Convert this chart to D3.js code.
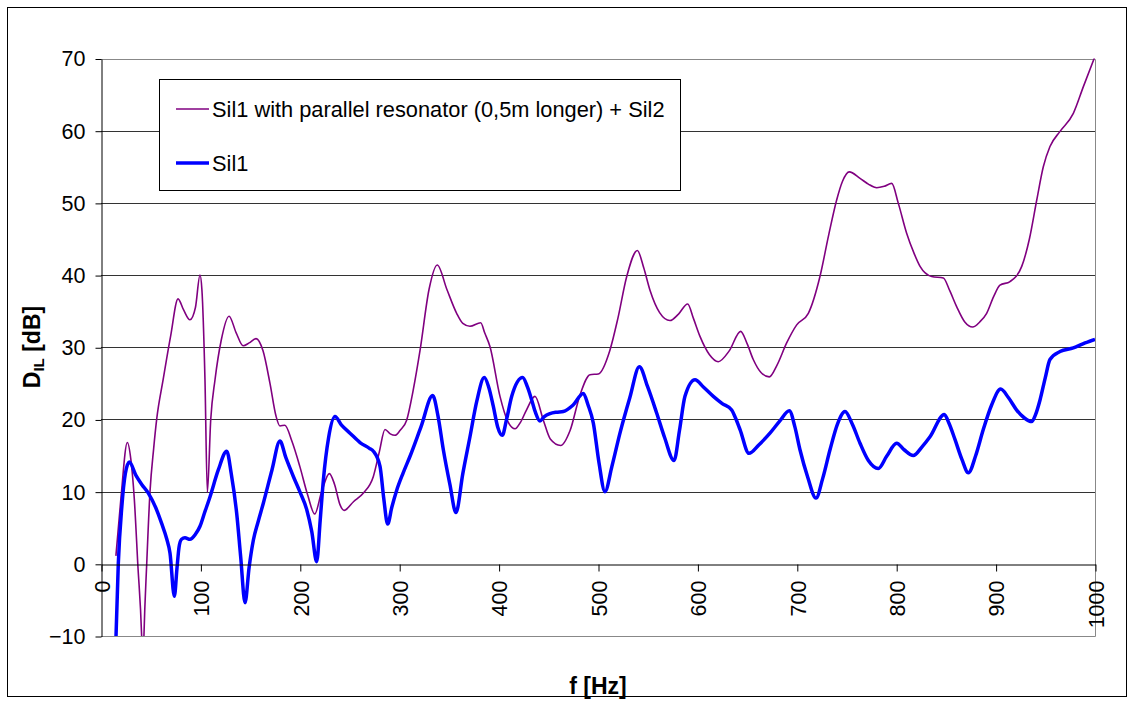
<!DOCTYPE html>
<html>
<head>
<meta charset="utf-8">
<script src="https://cdn.jsdelivr.net/npm/d3@7"></script>
<style>
  body { margin: 0; background: #fff; }
  text { font-family: "Liberation Sans", Arial, sans-serif; }
</style>
</head>
<body>
<div id="chart"></div>
<script>
// Sil1 with parallel resonator (0,5m longer) + Sil2
var resFreq = [15, 20, 26.5, 30, 33.5, 37, 40.9, 42.2, 43.2, 46, 49.3, 53, 56, 62.5, 70, 77.5, 83, 89.5, 95, 99.6,
  101.5, 104.6, 107, 110.4, 114.7, 121, 128.8, 136, 143, 149, 156, 163, 170, 176, 180, 185, 192, 200, 208, 215,
  222, 229.7, 235, 240.4, 244.5, 254, 264, 274, 280, 285.7, 291, 295.8, 301, 307.5, 314, 321, 330, 338.3, 348, 357.8,
  364, 371.2, 382, 386, 391.3, 401.4, 409, 416.5, 422, 428, 436.6, 445, 452, 462.5, 472, 481.9, 492, 500.3, 512, 520,
  528.9, 539.6, 546, 552.3, 562, 572.4, 581, 590.2, 596, 602.6, 612, 621, 632, 643.5, 650, 656.2, 664, 672.3, 680, 689.8,
  699.9, 711.6, 723.3, 732, 740.1, 746, 752.8, 763.6, 772, 780.4, 788, 795.5, 802, 810.5, 818, 824, 835.7, 847.4, 854, 860.9,
  869, 876.9, 884, 891, 898, 904.4, 914.5, 926.3, 934, 941.4, 948, 954.7, 964.8, 978.2, 988.3, 1000];
var resDb = [1.1, 9, 16.8, 14.5, 9, 0, -10, -16, -10, 0, 10, 16, 20, 25.5, 31.5, 36.7, 35.2, 33.8, 35.5, 40,
  38, 25.5, 9.9, 20, 25.5, 31, 34.3, 32, 30.2, 30.6, 31.2, 29.5, 25, 20.5, 19.1, 19.2, 17, 13.5, 9.5, 6.9,
  10, 12.5, 11, 8.2, 7.4, 8.6, 9.8, 12.1, 15.5, 18.6, 18, 17.8, 18.5, 19.9, 24, 29.6, 38, 41.4, 38, 34.7,
  33.3, 32.9, 33.4, 32, 30.1, 23.2, 19.8, 18.7, 19.6, 21.3, 23.2, 19.9, 17.3, 16.4, 18.5, 23.4, 26.2, 26.3, 29.6, 34,
  39.8, 43.4, 41, 37.9, 34.8, 33.7, 34.6, 36, 34, 31.5, 29, 28, 29.5, 32.2, 30.5, 28.3, 26.5, 25.9, 27.5, 30.6,
  33.1, 34.7, 39.8, 45.5, 50.4, 53, 54.3, 53.4, 52.6, 52.1, 52.3, 52.7, 50, 45.8, 43, 41.2, 39.8, 39.6, 37.8, 35.6,
  33.5, 32.8, 33.5, 34.7, 37, 38.6, 39.1, 41.2, 45, 50.4, 55, 57.8, 59.9, 62.4, 66.1, 70.3];

// Sil1
var silFreq = [15, 17.4, 21, 24.5, 28.5, 35, 41, 47.6, 55, 61, 66, 69.4, 73.8, 76.5, 78.5, 81, 84.5, 89.5, 95, 99.6,
  104, 109.7, 118, 126.5, 131, 136.5, 140.5, 144.9, 149, 153.3, 158, 163.3, 172, 180, 186, 193.5, 200, 207, 212, 217,
  220.5, 223.7, 229, 235.4, 242, 250.5, 260.6, 270, 274, 280.7, 284.5, 288.4, 292.5, 297.5, 304, 310.9, 322, 333.7, 339, 344.4,
  351, 357.1, 364, 371.2, 378, 385.6, 390, 394.7, 399, 403.7, 408, 413.2, 424.2, 429, 433.3, 437, 441.6, 446, 451.7, 458,
  465.1, 475, 485.2, 490, 495.3, 501, 507, 514, 522.1, 532, 541.6, 550, 559, 567, 576.5, 582, 587.5, 597.6, 606, 616,
  625, 634.5, 638, 642.9, 651.9, 662, 673, 683, 692.5, 698, 703.2, 711, 719.3, 726, 733.4, 741, 748.5, 756, 763.6, 772,
  782, 790.4, 800.5, 808, 817.2, 826, 834, 848.4, 853, 859.2, 866, 872.6, 880, 887.6, 896, 905.1, 913, 921.2, 929, 936.3,
  940, 944.7, 950, 954.7, 964.8, 978.2, 990, 1000];
var silDb = [-10.5, 0, 8, 12.5, 14.1, 12.3, 11, 9.8, 7.8, 5.6, 3.5, 1.5, -4.5, -0.5, 2.3, 3.4, 3.6, 3.4, 4.1, 5.2,
  7, 9.3, 13, 15.6, 12.5, 7, 1, -5.4, -0.5, 3.3, 5.8, 8.4, 13, 17, 14.7, 12.1, 10, 7.5, 4.5, 0.3,
  6, 11.6, 17.5, 20.4, 19.2, 18.1, 16.8, 16, 15.6, 13.5, 9, 5.5, 7.8, 10.2, 12.6, 14.9, 19, 23.3, 20.5, 15.8,
  11, 7.1, 12.5, 17.6, 22.5, 25.8, 24.5, 21.8, 19, 17.8, 20, 23.2, 25.8, 24.5, 22.7, 21, 19.8, 20.4, 20.8, 21,
  21.1, 22, 23.6, 22, 19.5, 14, 10, 13.5, 18.1, 23, 27.3, 24.5, 20.9, 17.5, 14.3, 18.5, 23.2, 25.5, 24.5, 23.2,
  22.2, 21.3, 20.3, 18.6, 15.3, 16.5, 18.1, 19.8, 21.2, 19, 15.8, 12, 9.1, 11.8, 15.8, 19.4, 21.1, 19.3, 16.7, 14.3,
  13.2, 14.9, 16.7, 15.8, 15, 16.2, 17.6, 20.7, 19.5, 17.2, 14.5, 12.6, 15, 18.6, 22, 24.2, 23, 21.3, 20.2, 19.7,
  20.6, 22.7, 25.8, 28.3, 29.4, 29.9, 30.6, 31.1];

var xTicks = [0, 100, 200, 300, 400, 500, 600, 700, 800, 900, 1000];
var yTicks = [-10, 0, 10, 20, 30, 40, 50, 60, 70];
var seriesNames = ['Sil1 with parallel resonator (0,5m longer) + Sil2', 'Sil1'];
var seriesColors = ['#800080', '#0000ff'];

var width = 1134, height = 704;
var plotLeft = 101, plotRight = 1095, plotTop = 58.5, plotBottom = 636;

var svg = d3.select('#chart')
  .append('svg')
  .attr('width', width)
  .attr('height', height);

// outer frame
svg.append('rect')
  .attr('x', 7.5).attr('y', 7.5)
  .attr('width', 1119).attr('height', 689)
  .attr('fill', 'none')
  .attr('stroke', '#000');

var x = d3.scaleLinear().domain([0, 1000]).range([plotLeft, plotRight]);
var y = d3.scaleLinear().domain([-10, 70]).range([plotBottom, plotTop]);

// gridlines
svg.append('g')
  .selectAll('line')
  .data(yTicks.filter(function (d) { return d > -10 && d < 70 && d !== 0; }))
  .enter()
  .append('line')
  .attr('x1', plotLeft).attr('x2', plotRight)
  .attr('y1', function (d) { return Math.round(y(d)) + 0.5; })
  .attr('y2', function (d) { return Math.round(y(d)) + 0.5; })
  .attr('stroke', '#333');

// plot border (top, right, bottom)
svg.append('path')
  .attr('d', 'M' + plotLeft + ',' + (Math.round(plotTop) + 0.5) + 'H' + (plotRight + 0.5) +
    'V' + (Math.round(plotBottom) + 0.5) + 'H' + plotLeft)
  .attr('fill', 'none')
  .attr('stroke', '#888');

// clip
svg.append('clipPath').attr('id', 'clip')
  .append('rect')
  .attr('x', plotLeft).attr('y', plotTop)
  .attr('width', plotRight - plotLeft).attr('height', plotBottom - plotTop);

var line = d3.line()
  .x(function (d) { return x(d[0]); })
  .y(function (d) { return y(d[1]); })
  .curve(d3.curveMonotoneX);

var resData = resFreq.map(function (f, i) { return [f, resDb[i]]; });
var silData = silFreq.map(function (f, i) { return [f, silDb[i]]; });

var plot = svg.append('g').attr('clip-path', 'url(#clip)');
plot.append('path')
  .attr('d', line(resData))
  .attr('fill', 'none')
  .attr('stroke', seriesColors[0])
  .attr('stroke-width', 1.6);
plot.append('path')
  .attr('d', line(silData))
  .attr('fill', 'none')
  .attr('stroke', seriesColors[1])
  .attr('stroke-width', 3.5)
  .attr('stroke-linejoin', 'round');

// y axis
var yAxis = svg.append('g')
  .attr('transform', 'translate(' + (plotLeft + 0.5) + ',0.5)')
  .call(d3.axisLeft(y).tickValues(yTicks).tickSize(6).tickPadding(10).tickSizeOuter(0));
yAxis.select('.domain').attr('stroke', '#000');
yAxis.selectAll('line').attr('stroke', '#000');
yAxis.selectAll('text')
  .attr('font-size', '21.5px')
  .attr('fill', '#000')
  .style('font-family', '"Liberation Sans", Arial, sans-serif');

// x axis at 0 dB
var xAxis = svg.append('g')
  .attr('transform', 'translate(0.5,' + (Math.round(y(0)) + 0.5) + ')')
  .call(d3.axisBottom(x).tickValues(xTicks).tickFormat(d3.format('d')).tickSize(7).tickSizeOuter(0));
xAxis.select('.domain').attr('stroke', '#000');
xAxis.selectAll('line').attr('stroke', '#000');
xAxis.selectAll('text')
  .attr('font-size', '21.5px')
  .attr('fill', '#000')
  .style('font-family', '"Liberation Sans", Arial, sans-serif')
  .attr('text-anchor', 'end')
  .attr('transform', 'rotate(-90)')
  .attr('x', -16)
  .attr('y', 0)
  .attr('dy', '0.36em');

// axis titles
var yTitle = svg.append('text')
  .attr('transform', 'translate(40,347) rotate(-90)')
  .attr('text-anchor', 'middle')
  .attr('font-weight', 'bold')
  .attr('font-size', '23px');
yTitle.append('tspan').text('D');
yTitle.append('tspan').attr('font-size', '15px').attr('dy', 4).text('IL');
yTitle.append('tspan').attr('dy', -4).text(' [dB]');

svg.append('text')
  .attr('x', (plotLeft + plotRight) / 2)
  .attr('y', 694)
  .attr('text-anchor', 'middle')
  .attr('font-weight', 'bold')
  .attr('font-size', '23px')
  .text('f [Hz]');

// legend
var legend = svg.append('g');
legend.append('rect')
  .attr('x', 159.5).attr('y', 79.5)
  .attr('width', 521).attr('height', 111)
  .attr('fill', '#fff')
  .attr('stroke', '#000');
var legendY = [109, 163];
var items = legend.selectAll('g.item')
  .data(seriesNames)
  .enter()
  .append('g');
items.append('line')
  .attr('x1', 176).attr('x2', 209)
  .attr('y1', function (d, i) { return legendY[i]; })
  .attr('y2', function (d, i) { return legendY[i]; })
  .attr('stroke', function (d, i) { return seriesColors[i]; })
  .attr('stroke-width', function (d, i) { return i === 0 ? 1.6 : 3.5; });
items.append('text')
  .attr('x', 212)
  .attr('y', function (d, i) { return legendY[i]; })
  .attr('dy', '0.36em')
  .attr('font-size', '21.8px')
  .text(function (d) { return d; });
</script>
</body>
</html>
